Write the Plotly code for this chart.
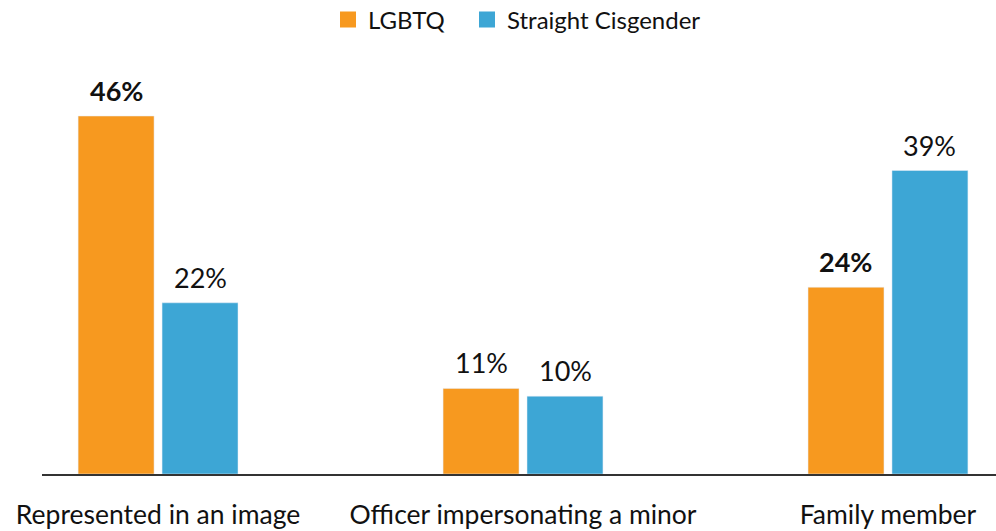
import plotly.graph_objects as go

categories = ["Represented in an image", "Officer impersonating a minor", "Family member"]
series_names = ["LGBTQ", "Straight Cisgender"]
lgbtq = [46, 11, 24]
straight = [22, 10, 39]
lgbtq_bold = [True, False, True]
straight_bold = [False, False, False]
colors = ["#F7991F", "#3DA6D5"]

def labels(vals, bold):
    return [f"<b>{v}%</b>" if b else f"{v}%" for v, b in zip(vals, bold)]

FONT = "Lato, 'Noto Sans', sans-serif"
TXT = "#111111"

fig = go.Figure()
series = [(series_names[0], lgbtq, lgbtq_bold, colors[0], -42, "legend"),
          (series_names[1], straight, straight_bold, colors[1], 42, "legend2")]
for name, vals, bold, col, dx, lg in series:
    fig.add_trace(go.Bar(name=name, x=categories, y=vals, marker_color=col,
                         showlegend=False, hoverinfo="skip"))
    fig.add_trace(go.Scatter(name=name, x=[categories[0]], y=[None], mode="markers",
                             marker=dict(symbol="square", size=21, color=col),
                             showlegend=True, legend=lg, hoverinfo="skip"))
    for c, v, t in zip(categories, vals, labels(vals, bold)):
        fig.add_annotation(x=c, y=v, text=t, showarrow=False, xshift=dx, yshift=7,
                           yanchor="bottom", font=dict(size=27, color=TXT, family=FONT))

legend_common = dict(orientation="h", yanchor="middle", y=1 - 20 / 531, yref="container",
                     xref="container", xanchor="left", font=dict(size=24, color=TXT),
                     itemwidth=30)

fig.update_layout(
    width=996, height=531,
    margin=dict(l=42, r=0, t=46, b=57),
    plot_bgcolor="white", paper_bgcolor="white",
    barmode="group", bargap=0.54, bargroupgap=0.0952,
    font=dict(family=FONT, size=24, color=TXT),
    legend=dict(legend_common, x=328 / 996),
    legend2=dict(legend_common, x=467 / 996),
)
fig.update_xaxes(type="category", range=[-0.318, 2.296], showline=True, linecolor="#333333",
                 linewidth=1.5, showgrid=False, ticks="", ticklabelstandoff=16,
                 automargin=False, tickfont=dict(size=26.5, color=TXT))
fig.update_yaxes(range=[0, 55], visible=False, showgrid=False, automargin=False)

fig.write_html("out.html", config={"displayModeBar": False},
               post_script="document.body.style.margin='0';")
